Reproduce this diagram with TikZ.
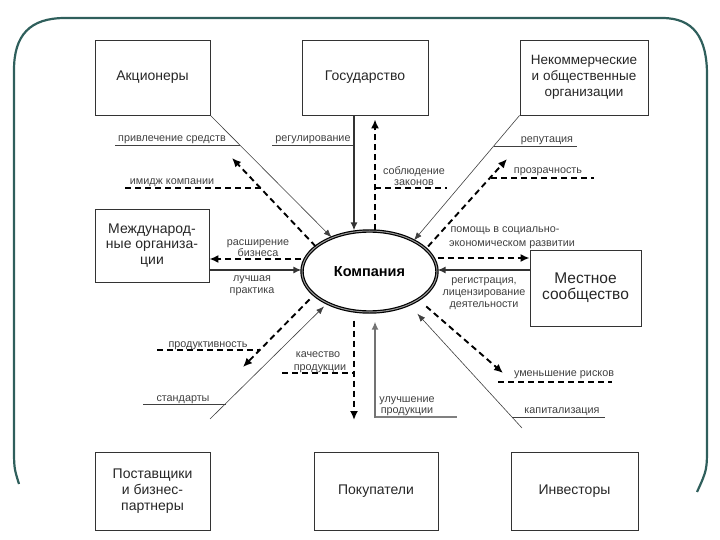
\documentclass[tikz,border=0pt]{standalone}
\usepackage{fontspec}
\setmainfont{Liberation Sans}
\usetikzlibrary{shapes.geometric,arrows.meta}
\definecolor{frameteal}{HTML}{2F5F5C}
\begin{document}
\begin{tikzpicture}[x=1pt,y=-1pt,
  box/.style={draw=black!80, line width=0.8pt, rectangle, align=center, inner sep=0pt,
              text=black!85, font=\fontsize{14}{16}\selectfont},
  lbl/.style={font=\fontsize{10.8}{12}\selectfont, text=black!75, inner sep=0pt, anchor=base},
  thinarr/.style={draw=black!75, line width=0.6pt, -{Latex[length=8pt,width=6pt]}},
  thinln/.style={draw=black!75, line width=0.6pt},
  medarr/.style={draw=black!80, line width=1.4pt, -{Latex[length=8pt,width=7pt]}},
  grayarr/.style={draw=black!55, line width=1.6pt, -{Latex[length=8pt,width=7pt]}},
  grayln/.style={draw=black!50, line width=2.4pt},
  dasharr/.style={draw=black, line width=1.9pt, dash pattern=on 6pt off 4pt, -{Latex[length=9pt,width=8pt]}},
  dashln/.style={draw=black, line width=1.9pt, dash pattern=on 6pt off 4pt},
]
\useasboundingbox (0,0) rectangle (720,540);

% frame
\draw[frameteal, line width=2.2pt] (19,484) .. controls (14,468) .. (14,445) -- (14,70)
  .. controls (14,35) and (30,18) .. (65,18) -- (662,18)
  .. controls (694,18) and (707,38) .. (707,75) -- (707,445)
  .. controls (707,470) .. (697,492);

% boxes
\node[box, minimum width=115pt, minimum height=75pt] (akc) at (152.5,77.5) {Акционеры};
\node[box, minimum width=126pt, minimum height=75pt] (gos) at (365,77.5) {Государство};
\node[box, minimum width=128pt, minimum height=75pt, font=\fontsize{13.5}{16}\selectfont] (nko) at (584,77.5) {Некоммерческие\\и общественные\\организации};
\node[box, minimum width=114pt, minimum height=73pt, font=\fontsize{14}{15.5}\selectfont] (mezh) at (152,245.5) {Международ-\\ные организа-\\ции};
\node[box, minimum width=111pt, minimum height=76pt, font=\fontsize{15.5}{16}\selectfont] (mest) at (585.5,288) {Местное\\сообщество};
\node[box, minimum width=115pt, minimum height=78pt, font=\fontsize{14}{16}\selectfont] (post) at (152.5,491) {Поставщики\\и бизнес-\\партнеры};
\node[box, minimum width=124pt, minimum height=78pt] (pok) at (376,491) {Покупатели};
\node[box, minimum width=127pt, minimum height=78pt] (inv) at (574.5,491) {Инвесторы};

% company
\node[ellipse, draw=black, line width=1.2pt, double=black!40, double distance=1pt,
      minimum width=135pt, minimum height=81pt, inner sep=0pt,
      font=\bfseries\fontsize{14.5}{16}\selectfont] (comp) at (369.5,271.5) {Компания};

% ---------- Акционеры
\coordinate (akcImg) at (232,158);
\coordinate (l1a) at (115,145); \coordinate (l1b) at (240,145);
\coordinate (l2a) at (125,188); \coordinate (l2b) at (261,188);
\draw[thinln] (l1a) -- (l1b);
\draw[dashln] (l2a) -- (l2b);
\draw[thinarr] (akc.south east) -- (comp.138);
\draw[dasharr] (comp.155) -- (akcImg);
\node[lbl] (t1) at (172,142) {привлечение средств};
\node[lbl] (t2) at (172,185) {имидж компании};

% ---------- Государство
\coordinate (gx1) at (354,0); \coordinate (gx2) at (375,0);
\coordinate (g1a) at (272,145); \coordinate (g2b) at (447,188);
\draw[thinln] (g1a) -- (gx1 |- g1a);
\draw[dashln] (gx2 |- g2b) -- (g2b);
\draw[medarr] (gx1 |- gos.south) -- (gx1 |- comp.north);
\draw[dasharr, shorten >=4pt] (gx2 |- comp.north) -- (gx2 |- gos.south);
\node[lbl] (t3) at (313,142) {регулирование};
\node[lbl] (t4) at (414,175) {соблюдение};
\node[lbl] (t5) at (414,186) {законов};

% ---------- Некоммерческие
\coordinate (nkTip) at (507,159);
\coordinate (n1a) at (494,146); \coordinate (n1b) at (577,146);
\coordinate (n2a) at (491,178); \coordinate (n2b) at (594,178);
\draw[thinln] (n1a) -- (n1b);
\draw[dashln] (n2a) -- (n2b);
\draw[thinarr] (nko.south west) -- (comp.35);
\draw[dasharr, shorten <=3pt] (comp.22) -- (nkTip);
\node[lbl] (t6) at (547,143) {репутация};
\node[lbl] (t7) at (548,174) {прозрачность};
\node[lbl] (t8) at (505,233) {помощь в социально-};
\node[lbl] (t9) at (512,246) {экономическом развитии};

% ---------- Международные
\coordinate (my1) at (0,259); \coordinate (my2) at (0,270);
\draw[dasharr] (comp.west |- my1) -- (mezh.east |- my1);
\draw[medarr] (mezh.east |- my2) -- (comp.west |- my2);
\node[lbl] (t10) at (258,245) {расширение};
\node[lbl] (t11) at (258,256) {бизнеса};
\node[lbl] (t12) at (252,281) {лучшая};
\node[lbl] (t13) at (252,293) {практика};

% ---------- Местное
\coordinate (ly1) at (0,258); \coordinate (ly2) at (0,270);
\draw[dasharr] (comp.east |- ly1) -- (mest.west |- ly1);
\draw[medarr] (mest.west |- ly2) -- (comp.east |- ly2);
\node[lbl] (t14) at (484,283) {регистрация,};
\node[lbl] (t15) at (484,295) {лицензирование};
\node[lbl] (t16) at (484,307) {деятельности};

% ---------- Поставщики
\coordinate (pStart) at (210,419); \coordinate (pTip) at (243,367);
\coordinate (p1a) at (143,404); \coordinate (p1b) at (226,404);
\coordinate (p2a) at (157,350); \coordinate (p2b) at (259,350);
\draw[thinln] (p1a) -- (p1b);
\draw[dashln] (p2a) -- (p2b);
\draw[thinarr, shorten >=4pt] (pStart) -- (comp.217);
\draw[dasharr, shorten <=6pt] (comp.203) -- (pTip);
\node[lbl] (t17) at (183,401) {стандарты};
\node[lbl] (t18) at (208,347) {продуктивность};

% ---------- Покупатели
\coordinate (kx1) at (354,0); \coordinate (kx2) at (375,0);
\coordinate (kTip) at (354,420); \coordinate (kBase) at (375,418);
\coordinate (k1a) at (282,373); \coordinate (k2b) at (457,417);
\draw[dashln] (k1a) -- (kx1 |- k1a);
\draw[grayln] (kx2 |- k2b) -- (k2b);
\draw[dasharr, shorten <=8pt] (kx1 |- comp.south) -- (kTip);
\draw[grayarr, shorten >=9pt] (kBase) -- (kx2 |- comp.south);
\node[lbl] (t19) at (318,357) {качество};
\node[lbl] (t20) at (320,370) {продукции};
\node[lbl] (t21) at (407,402) {улучшение};
\node[lbl] (t22) at (407,413) {продукции};

% ---------- Инвесторы
\coordinate (iStart) at (522,428); \coordinate (iTip) at (503,373);
\coordinate (i1a) at (512,417); \coordinate (i1b) at (605,417);
\coordinate (i2a) at (498,382); \coordinate (i2b) at (612,382);
\draw[thinln] (i1a) -- (i1b);
\draw[dashln] (i2a) -- (i2b);
\draw[thinarr, shorten >=12pt] (iStart) -- (comp.-40);
\draw[dasharr, shorten <=10pt] (comp.-30) -- (iTip);
\node[lbl] (t23) at (562,413) {капитализация};
\node[lbl] (t24) at (564,376) {уменьшение рисков};
\end{tikzpicture}
\end{document}
